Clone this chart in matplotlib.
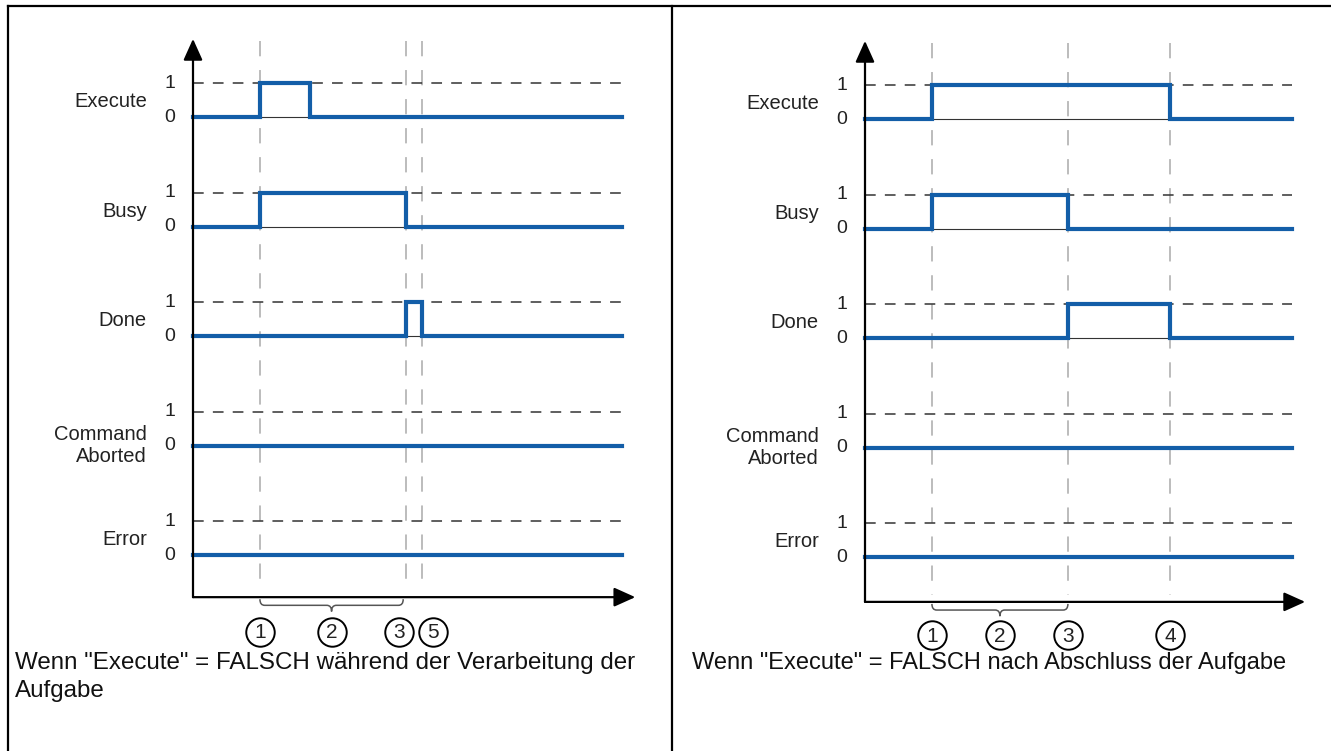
import matplotlib.pyplot as plt
from matplotlib.lines import Line2D
from matplotlib.path import Path
from matplotlib.patches import PathPatch

plt.rcParams['font.family'] = ['Liberation Sans', 'DejaVu Sans']

W, H = 1331, 751
BLUE = '#135ea8'

signal_names = ['Execute', 'Busy', 'Done', 'Command\nAborted', 'Error']

# left panel: Execute goes FALSE while the job is running
left_events = [3.12, 9.93, 10.68]
left_end = 20.0
left_times = [
    [0, 3.12, 5.45, 20.0],
    [0, 3.12, 9.93, 20.0],
    [0, 9.93, 10.68, 20.0],
    [0, 20.0],
    [0, 20.0],
]
left_values = [
    [0, 1, 0, 0],
    [0, 1, 0, 0],
    [0, 1, 0, 0],
    [0, 0],
    [0, 0],
]
left_marks = ['1', '2', '3', '5']
left_mark_x = [3.12, 6.48, 9.62, 11.2]
left_brace = (3.12, 9.8)
left_caption = 'Wenn "Execute" = FALSCH während der Verarbeitung der\nAufgabe'

# right panel: Execute goes FALSE after the job is done
right_events = [3.12, 9.46, 14.22]
right_end = 19.9
right_times = [
    [0, 3.12, 14.22, 19.9],
    [0, 3.12, 9.46, 19.9],
    [0, 9.46, 14.22, 19.9],
    [0, 19.9],
    [0, 19.9],
]
right_values = [
    [0, 1, 0, 0],
    [0, 1, 0, 0],
    [0, 1, 0, 0],
    [0, 0],
    [0, 0],
]
right_marks = ['1', '2', '3', '4']
right_mark_x = [3.12, 6.29, 9.46, 14.22]
right_brace = (3.12, 9.46)
right_caption = 'Wenn "Execute" = FALSCH nach Abschluss der Aufgabe'

SX, SY = 21.45, 34.0   # pixels per time unit / per signal level
GAP = 3.22             # distance between signal rows


def panel_axes(fig, x0, y0):
    # full-figure axes, data origin at pixel (x0, y0) measured from top left
    ax = fig.add_axes([0, 0, 1, 1])
    ax.set_xlim(-x0 / SX, (W - x0) / SX)
    ax.set_ylim((y0 - H) / SY, y0 / SY)
    ax.axis('off')
    ax.patch.set_alpha(0)
    return ax


def brace(ax, a, b, yt, depth=0.36, r=0.22):
    ym = yt - depth / 2
    yb = yt - depth
    c = (a + b) / 2
    verts = [(a, yt), (a, ym), (a + r, ym), (c - r, ym), (c, ym), (c, yb),
             (c, ym), (c + r, ym), (b - r, ym), (b, ym), (b, yt)]
    codes = [Path.MOVETO, Path.CURVE3, Path.CURVE3, Path.LINETO,
             Path.CURVE3, Path.CURVE3, Path.CURVE3, Path.CURVE3,
             Path.LINETO, Path.CURVE3, Path.CURVE3]
    ax.add_patch(PathPatch(Path(verts, codes), fc='none', ec='#555555', lw=1.1))


def draw_panel(ax, times, values, events, end, marks, mark_x, br, xaxis_y, mark_y):
    top = 4 * GAP + 2.3
    arrow = dict(arrowstyle='-|>,head_length=1.0,head_width=0.45',
                 color='black', lw=1.6, mutation_scale=13, shrinkA=0, shrinkB=0)
    # axes with arrow heads
    ax.annotate('', xy=(0, top), xytext=(0, xaxis_y), arrowprops=arrow)
    ax.annotate('', xy=(end + 0.62, xaxis_y), xytext=(0, xaxis_y), arrowprops=arrow)

    # event markers, drawn top-down so the dash pattern starts at the top
    for t in events:
        ax.plot([t, t], [top - 0.05, xaxis_y + 0.2], color='#aaaaaa', lw=1.1,
                dashes=(10, 9))

    for i, name in enumerate(signal_names):
        base = (4 - i) * GAP
        ax.plot([0, end], [base + 1, base + 1], color='#333333', lw=1.1,
                dashes=(7, 6))
        ax.plot([0, end], [base, base], color='#333333', lw=0.8)
        ax.plot(times[i], [base + v for v in values[i]], color=BLUE, lw=3.0,
                drawstyle='steps-post', solid_joinstyle='miter')
        ax.text(-1.07, base + 1, '1', ha='center', va='center', fontsize=14,
                color='#222222')
        ax.text(-1.07, base, '0', ha='center', va='center', fontsize=14,
                color='#222222')
        if '\n' in name:
            ax.text(-2.15, base, name, ha='right', va='center', fontsize=14.5,
                    color='#222222', linespacing=1.25)
        else:
            ax.text(-2.15, base + 0.45, name, ha='right', va='center',
                    fontsize=14.5, color='#222222')

    brace(ax, br[0], br[1], xaxis_y - 0.06)

    ax.plot(mark_x, [mark_y] * len(mark_x), 'o', ms=20.5, mfc='white',
            mec='black', mew=1.4)
    for x, s in zip(mark_x, marks):
        ax.text(x, mark_y - 0.03, s, ha='center', va='center', fontsize=15,
                color='#222222')


fig = plt.figure(figsize=(W / 100, H / 100), dpi=100)

axl = panel_axes(fig, 193, 555)
draw_panel(axl, left_times, left_values, left_events, left_end,
           left_marks, left_mark_x, left_brace, -1.24, -2.25)

axr = panel_axes(fig, 865, 557)
draw_panel(axr, right_times, right_values, right_events, right_end,
           right_marks, right_mark_x, right_brace, -1.32, -2.3)

fig.text(15 / W, 1 - 652 / H, left_caption, ha='left', va='top',
         fontsize=17.4, color='#111111', linespacing=1.35)
fig.text(692 / W, 1 - 652 / H, right_caption, ha='left', va='top',
         fontsize=17.0, color='#111111')

# frame of the two panels
for xs, ys in [([8, W], [6, 6]), ([8, 8], [6, H]), ([672, 672], [6, H])]:
    fig.add_artist(Line2D([x / W for x in xs], [1 - y / H for y in ys],
                          color='black', lw=1.6, transform=fig.transFigure))

fig.savefig('out.png', dpi=100, facecolor='white')
